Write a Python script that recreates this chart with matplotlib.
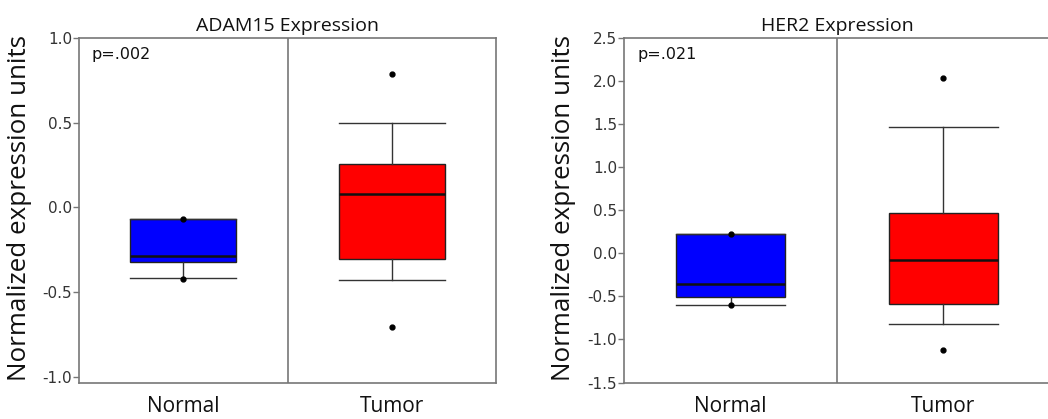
import matplotlib
matplotlib.use("Agg")
import matplotlib.pyplot as plt

# box statistics
groups = ["Normal", "Tumor"]
box_colors = ["#0000ff", "#ff0000"]

adam15_med = [-0.285, 0.081]
adam15_q1 = [-0.323, -0.305]
adam15_q3 = [-0.070, 0.258]
adam15_whislo = [-0.417, -0.429]
adam15_whishi = [-0.070, 0.496]
adam15_fliers = [[-0.067, -0.42], [0.79, -0.707]]

her2_med = [-0.355, -0.076]
her2_q1 = [-0.51, -0.593]
her2_q3 = [0.223, 0.464]
her2_whislo = [-0.60, -0.822]
her2_whishi = [0.223, 1.47]
her2_fliers = [[0.22, -0.60], [2.04, -1.118]]

panels = [
    ("ADAM15 Expression", "p=.002", adam15_med, adam15_q1, adam15_q3,
     adam15_whislo, adam15_whishi, adam15_fliers, (-1.037, 1.0),
     [-1.0, -0.5, 0.0, 0.5, 1.0]),
    ("HER2 Expression", "p=.021", her2_med, her2_q1, her2_q3,
     her2_whislo, her2_whishi, her2_fliers, (-1.505, 2.5),
     [-1.5, -1.0, -0.5, 0.0, 0.5, 1.0, 1.5, 2.0, 2.5]),
]

W, H = 1048, 419
fig = plt.figure(figsize=(W / 100, H / 100), dpi=100)
positions = [(79, 496, 38, 383), (624, 1050, 38, 383)]
ylabel_x = [20, 563]

for (title, ptxt, med, q1, q3, wlo, whi, fl, ylim, yticks), (x0, x1, y0, y1), lx in zip(panels, positions, ylabel_x):
    ax = fig.add_axes([x0 / W, 1 - y1 / H, (x1 - x0) / W, (y1 - y0) / H])
    stats = []
    for i in range(2):
        stats.append(dict(med=med[i], q1=q1[i], q3=q3[i], whislo=wlo[i],
                          whishi=whi[i], fliers=fl[i], label=groups[i]))
    bp = ax.bxp(stats, positions=[0, 1], widths=0.51, capwidths=0.51,
                patch_artist=True,
                boxprops=dict(edgecolor="#222222", linewidth=1.0),
                medianprops=dict(color="#111111", linewidth=1.8),
                whiskerprops=dict(color="#333333", linewidth=1.0),
                capprops=dict(color="#333333", linewidth=1.0),
                flierprops=dict(marker="o", markersize=3.5, markerfacecolor="black",
                                markeredgecolor="black", linestyle="none"))
    for patch, c in zip(bp["boxes"], box_colors):
        patch.set_facecolor(c)

    ax.set_xlim(-0.5, 1.5)
    ax.set_ylim(*ylim)
    ax.axvline(0.5, color="#777777", linewidth=1.2)
    ax.set_yticks(yticks)
    ax.set_yticklabels([f"{t:.1f}" for t in yticks], fontsize=11,
                       color="#333333", family="DejaVu Sans")
    ax.tick_params(axis="y", length=4, width=1, color="#777777", pad=1)
    ax.tick_params(axis="x", length=0, pad=9)
    ax.set_xticks([0, 1])
    ax.set_xticklabels(groups, fontsize=15, family="Open Sans", color="#111111")
    for s in ax.spines.values():
        s.set_color("#777777")
        s.set_linewidth(1.2)
    ax.set_title(title, fontsize=14, family="Open Sans", color="#111111", pad=5)
    ax.text(0.031, 0.953, ptxt, transform=ax.transAxes, fontsize=11.5,
            family="DejaVu Sans", color="#111111", va="center", ha="left")
    fig.text(lx / W, 1 - 208 / H, "Normalized expression units", rotation=90,
             fontsize=18.7, family="Open Sans", color="#111111",
             ha="center", va="center")

fig.savefig("out.png", dpi=100)
